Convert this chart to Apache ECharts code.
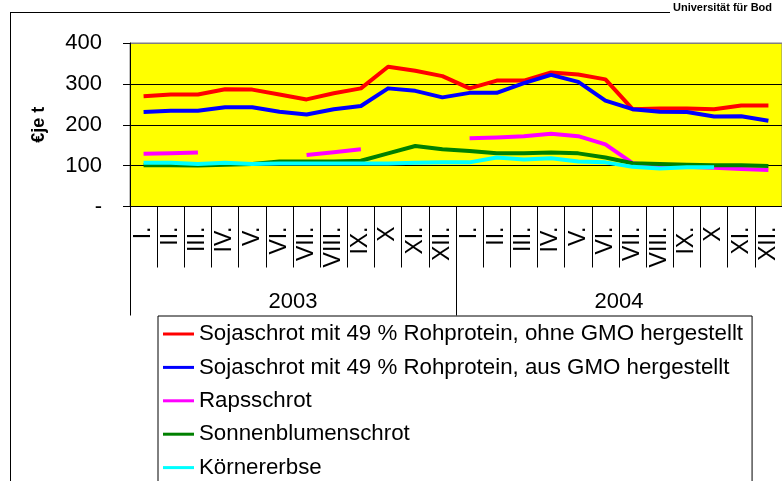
<!DOCTYPE html>
<html>
<head>
<meta charset="utf-8">
<script src="https://cdn.jsdelivr.net/npm/echarts@6/dist/echarts.min.js"></script>
<style>
html,body{margin:0;padding:0;background:#fff;}
#c{width:782px;height:481px;}
</style>
</head>
<body>
<div id="c"></div>
<script>
var months = ['I.','II.','III.','IV.','V.','VI.','VII.','VIII.','IX.','X','XI.','XII.',
              'I.','II.','III.','IV.','V.','VI.','VII.','VIII.','IX.','X','XI.','XII.'];
var years = ['2003','2004'];
var yTicks = [0,100,200,300,400];
var sojaOhneGMO = [270,274,274,287,286,274,262,277,289,342,332,319, 289,308,308,328,323,311,238,240,240,238,247,247];
var sojaAusGMO  = [231,234,234,243,243,232,225,238,246,289,283,267, 278,278,302,322,305,259,238,232,231,220,221,210];
var rapsschrot  = [129,130,132,null,null,null,126,133,140,null,null,null, 167,169,172,178,172,152,106,100,97,95,92,89];
var sonnenblumenschrot = [101,101,100,102,104,110,110,110,112,130,148,140, 136,130,130,132,130,120,106,104,102,101,101,99];
var koernererbse = [107,107,104,107,104,105,105,105,105,105,107,108, 108,120,115,118,110,108,97,93,96,96,null,null];

var names = ['Sojaschrot mit 49 % Rohprotein, ohne GMO hergestellt',
             'Sojaschrot mit 49 % Rohprotein, aus GMO hergestellt',
             'Rapsschrot','Sonnenblumenschrot','Körnererbse'];
var colors = ['#ff0000','#0000ff','#ff00ff','#008000','#00ffff'];
var dataSets = [sojaOhneGMO, sojaAusGMO, rapsschrot, sonnenblumenschrot, koernererbse];

var FONT = '"Liberation Sans", Arial, sans-serif';
var chart = echarts.init(document.getElementById('c'), null, {renderer:'canvas'});
chart.setOption({
  animation: false,
  textStyle: {fontFamily: FONT},
  color: colors,
  grid: {left:130, top:43, right:-5, height:163.5, show:true, backgroundColor:'#ffff00', borderColor:'#808080', borderWidth:1},
  xAxis: [{
    type:'category', data: months, boundaryGap:true, position:'bottom',
    axisLine:{show:true, lineStyle:{color:'#000', width:1}},
    axisTick:{show:true, interval:0, length:61, lineStyle:{color:'#000'}},
    axisLabel:{interval:0, rotate:90, fontSize:23, color:'#000', margin:20, fontFamily:FONT},
    splitLine:{show:false}
  },{
    type:'category', data: years, boundaryGap:true, position:'bottom',
    axisLine:{show:false},
    axisTick:{show:true, interval:0, length:109, lineStyle:{color:'#000'}},
    axisLabel:{interval:0, fontSize:22, color:'#000', margin:84, fontFamily:FONT},
    splitLine:{show:false}
  }],
  yAxis: {
    type:'value', min:0, max:400, interval:100,
    name:'€je t', nameLocation:'middle', nameRotate:90, nameGap:82,
    nameTextStyle:{fontSize:18, fontWeight:'bold', color:'#000', fontFamily:FONT},
    axisLine:{show:true, lineStyle:{color:'#000'}},
    axisTick:{show:true, inside:false, length:7, lineStyle:{color:'#000'}},
    axisLabel:{fontSize:22, color:'#000', margin:28, fontFamily:FONT,
      formatter:function(v){ return v===0 ? '-' : String(v); }},
    splitLine:{show:true, lineStyle:{color:['#000','#000','#000','#000','#808080'], width:1}}
  },
  legend: {
    orient:'vertical', left:158, top:316, height:185, width:600, padding:[7,9,8,5], itemGap:11.4,
    itemWidth:31, itemHeight:3, icon:'rect',
    borderColor:'#000', borderWidth:1, backgroundColor:'#fff',
    textStyle:{fontSize:22.3, lineHeight:22, color:'#000', fontFamily:FONT},
    data: names
  },
  graphic: [
    {type:'line', shape:{x1:10, y1:12.5, x2:670, y2:12.5}, style:{stroke:'#000', lineWidth:1}, silent:true},
    {type:'line', shape:{x1:10.5, y1:12.5, x2:10.5, y2:481}, style:{stroke:'#000', lineWidth:1}, silent:true},
    {type:'text', left:673, top:2, style:{text:'Universität für Bod', font:'bold 11px "Liberation Sans", Arial, sans-serif', fill:'#000'}, silent:true}
  ],
  series: names.map(function(n,i){
    return {
      name:n, type:'line', data:dataSets[i], symbol:'none', showSymbol:false,
      lineStyle:{width:4, color:colors[i], join:'round'},
      itemStyle:{color:colors[i]},
      connectNulls:false, xAxisIndex:0
    };
  })
});
</script>
</body>
</html>
